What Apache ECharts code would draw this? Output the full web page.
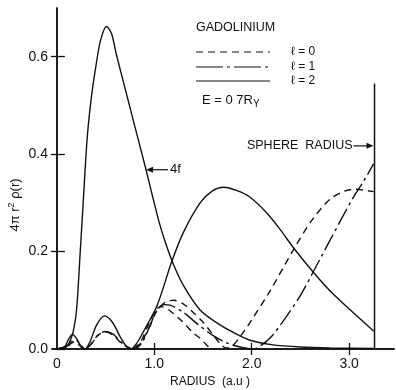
<!DOCTYPE html>
<html>
<head>
<meta charset="utf-8">
<script src="https://cdn.jsdelivr.net/npm/echarts@6/dist/echarts.min.js"></script>
<style>
html,body{margin:0;padding:0;background:#fff}
#c{width:396px;height:390px}
</style>
</head>
<body>
<div id="c"></div>
<script>
// Radial densities 4πr²ρ(r) for gadolinium, E = 0.7 Ry, as [radius (a.u.), density] pairs
const fourF = [[0,0],[0.08,0.002],[0.12,0.01],[0.16,0.03],[0.19,0.06],[0.21,0.10],[0.24,0.20],[0.27,0.30],
  [0.31,0.43],[0.35,0.51],[0.40,0.58],[0.45,0.635],[0.51,0.662],[0.56,0.648],[0.61,0.605],[0.70,0.535],
  [0.80,0.457],[0.91,0.372],[0.98,0.315],[1.05,0.26],[1.12,0.215],[1.2,0.172],[1.3,0.13],[1.47,0.08],
  [1.67,0.05],[1.88,0.027],[2.0,0.017],[2.2,0.009],[2.5,0.004],[2.8,0.002],[3.25,0.001]];

const lZero = [[0,0],[0.1,0.004],[0.15,0.012],[0.19,0.015],[0.23,0.008],[0.28,0],[0.35,0.01],[0.42,0.028],
  [0.5,0.035],[0.58,0.028],[0.66,0.012],[0.74,0.002],[0.78,0],[0.86,0.012],[0.95,0.045],[1.03,0.08],
  [1.12,0.097],[1.2,0.10],[1.3,0.092],[1.4,0.075],[1.5,0.055],[1.6,0.03],[1.68,0.01],[1.74,0.002],
  [1.8,0.006],[1.88,0.025],[2.0,0.06],[2.19,0.12],[2.44,0.208],[2.62,0.265],[2.8,0.307],[2.95,0.324],
  [3.06,0.328],[3.15,0.326],[3.25,0.323]];

const lOne = [[0,0],[0.1,0.006],[0.15,0.015],[0.2,0.017],[0.25,0.007],[0.29,0],[0.36,0.012],[0.43,0.03],
  [0.5,0.036],[0.58,0.03],[0.67,0.012],[0.75,0.002],[0.8,0],[0.88,0.015],[0.96,0.05],[1.03,0.08],
  [1.1,0.091],[1.16,0.09],[1.3,0.075],[1.45,0.05],[1.6,0.028],[1.75,0.012],[1.9,0.003],[2.01,0],
  [2.1,0.008],[2.2,0.025],[2.35,0.065],[2.5,0.11],[2.63,0.158],[2.8,0.222],[3.03,0.307],[3.15,0.345],[3.25,0.38]];

const lTwo = [[0,0],[0.08,0.005],[0.12,0.02],[0.16,0.03],[0.2,0.022],[0.25,0.005],[0.29,0],[0.34,0.015],
  [0.41,0.05],[0.49,0.068],[0.57,0.055],[0.65,0.025],[0.72,0.004],[0.76,0],[0.82,0.012],[0.9,0.04],
  [1.03,0.09],[1.18,0.18],[1.30,0.24],[1.47,0.30],[1.6,0.325],[1.71,0.332],[1.85,0.325],[1.98,0.312],
  [2.15,0.28],[2.3,0.243],[2.42,0.21],[2.63,0.158],[2.8,0.12],[3.0,0.082],[3.15,0.055],[3.25,0.037]];

// short s-like lobe that dies out before the second node
const lZeroLobe = [[0.78,0],[0.86,0.015],[0.95,0.055],[1.03,0.083],[1.07,0.087],[1.15,0.08],
  [1.28,0.058],[1.4,0.033],[1.47,0.022],[1.55,0.006],[1.62,0]];

const sphereRadius = 3.26;
const sphereLine = [[sphereRadius,0],[sphereRadius,0.545]];

const xTickValues = [0,1,2,3];
const xTopTicks = [1,2,3];
const yTickValues = [0,0.2,0.4,0.6];
const yRightTicks = [0.2,0.4,0.6];

const INK = '#111';
const FONT = '"Liberation Sans","DejaVu Sans",Arial,sans-serif';
const dashDot = [18,4,3,4];
const dashed = [7,5];

const chart = echarts.init(document.getElementById('c'), null, {renderer:'canvas'});

function curve(name, data, type) {
  return {
    name, type:'line', data, smooth:0.3, showSymbol:false, clip:true,
    lineStyle:{color:INK, width:1.4, type:type},
    emphasis:{disabled:true}, silent:true
  };
}

const axisLine = {show:true, lineStyle:{color:INK, width:1.5}};

chart.setOption({
  animation:false,
  backgroundColor:'#fff',
  grid:{left:52, top:8, right:2, bottom:41},
  xAxis:[
    {type:'value', min:-0.05, max:3.46, position:'bottom',
     axisLine, splitLine:{show:false},
     axisTick:{inside:true, length:6, customValues:xTickValues.slice(1), lineStyle:{color:INK,width:1.3}},
     axisLabel:{customValues:xTickValues, margin:8, color:INK, fontSize:14, fontFamily:FONT,
       formatter:v => v === 0 ? '0' : v.toFixed(1)}},
    {type:'value', min:-0.05, max:3.46, position:'top',
     axisLine, splitLine:{show:false},
     axisTick:{inside:true, length:6, customValues:xTopTicks, lineStyle:{color:INK,width:1.3}},
     axisLabel:{show:false}}
  ],
  yAxis:[
    {type:'value', min:0, max:0.7, position:'left',
     axisLine, splitLine:{show:false},
     axisTick:{inside:true, length:8, customValues:yTickValues, lineStyle:{color:INK,width:1.3}},
     axisLabel:{customValues:yTickValues, margin:4, color:INK, fontSize:14, fontFamily:FONT,
       formatter:v => v.toFixed(1)}},
    {type:'value', min:0, max:0.7, position:'right',
     axisLine, splitLine:{show:false},
     axisTick:{inside:true, length:6, customValues:yRightTicks, lineStyle:{color:INK,width:1.3}},
     axisLabel:{show:false}}
  ],
  series:[
    curve('4f', fourF, 'solid'),
    curve('ℓ=0', lZero, dashed),
    curve('ℓ=1', lOne, dashDot),
    curve('ℓ=2', lTwo, 'solid'),
    curve('ℓ=0 lobe', lZeroLobe, dashed),
    {name:'sphere radius', type:'line', data:sphereLine, showSymbol:false, silent:true,
     lineStyle:{color:INK, width:1.5}}
  ]
});

// annotations: key, labels and arrows placed from data coordinates
function px(p){ return chart.convertToPixel({gridIndex:0}, p); }
const tip4f = px([0.905, 0.368]);
const tipSphere = px([sphereRadius, 0.417]);

function arrowLeft(x, y){ return [[x,y],[x+7,y-3],[x+7,y+3]]; }
function arrowRight(x, y){ return [[x,y],[x-7,y-3],[x-7,y+3]]; }

const txt = (x, y, text, size, align, extra) => ({
  type:'text', x, y, silent:true,
  style:Object.assign({text, fill:INK, font:`${size}px ${FONT}`, textAlign:align||'left', textVerticalAlign:'middle'}, extra||{})
});

const keyX0 = 196, keyX1 = 270;
chart.setOption({
  graphic:[
    // y axis title
    {type:'text', x:15, y:205, rotation:Math.PI/2, silent:true,
     style:{text:'4π r{s|2} ρ(r)', rich:{s:{fontSize:9, padding:[0,0,7,0], fontFamily:FONT, fill:INK}},
            fill:INK, font:`13px ${FONT}`, textAlign:'center', textVerticalAlign:'middle'}},
    txt(210, 382, 'RADIUS  (a.u )', 12, 'center'),
    txt(196, 28, 'GADOLINIUM', 12.5),
    {type:'line', silent:true, shape:{x1:keyX0,y1:52,x2:keyX1,y2:52}, style:{stroke:INK, lineWidth:1.2, lineDash:dashed}},
    {type:'line', silent:true, shape:{x1:keyX0,y1:67,x2:keyX1,y2:67}, style:{stroke:INK, lineWidth:1.2, lineDash:[27,4,3,4]}},
    {type:'line', silent:true, shape:{x1:keyX0,y1:81,x2:keyX1,y2:81}, style:{stroke:INK, lineWidth:1.2}},
    txt(291, 52, 'ℓ = 0', 12),
    txt(291, 67, 'ℓ = 1', 12),
    txt(291, 81, 'ℓ = 2', 12),
    {type:'text', x:202, y:100, silent:true,
     style:{text:'E = 0 7R{sub|Y}', rich:{sub:{fontSize:10, padding:[8,0,0,0], fontFamily:FONT, fill:INK}},
            fill:INK, font:`13px ${FONT}`, textAlign:'left', textVerticalAlign:'middle'}},
    // 4f arrow
    {type:'line', silent:true, shape:{x1:tip4f[0]+6,y1:tip4f[1],x2:tip4f[0]+23,y2:tip4f[1]}, style:{stroke:INK, lineWidth:1.2}},
    {type:'polygon', silent:true, shape:{points:arrowLeft(tip4f[0]+1, tip4f[1])}, style:{fill:INK}},
    txt(tip4f[0]+25, tip4f[1], '4f', 13),
    // sphere radius arrow
    txt(tipSphere[0]-22, tipSphere[1], 'SPHERE  RADIUS', 12.5, 'right'),
    {type:'line', silent:true, shape:{x1:tipSphere[0]-21,y1:tipSphere[1],x2:tipSphere[0]-6,y2:tipSphere[1]}, style:{stroke:INK, lineWidth:1.2}},
    {type:'polygon', silent:true, shape:{points:arrowRight(tipSphere[0]-1, tipSphere[1])}, style:{fill:INK}}
  ]
});
</script>
</body>
</html>
